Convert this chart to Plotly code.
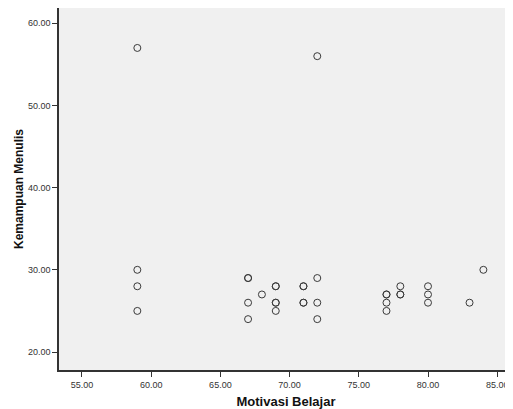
import plotly.graph_objects as go

motivasi = [59, 59, 59, 59, 67, 67, 67, 67, 68, 69, 69, 69, 69, 69, 71, 71, 71, 71,
            72, 72, 72, 72, 77, 77, 77, 77, 78, 78, 78, 80, 80, 80, 83, 84]
menulis = [57, 30, 28, 25, 29, 29, 26, 24, 27, 28, 28, 26, 26, 25, 28, 28, 26, 26,
           56, 29, 26, 24, 27, 27, 26, 25, 28, 27, 27, 28, 27, 26, 26, 30]

x_ticks = [55, 60, 65, 70, 75, 80, 85]
y_ticks = [20, 30, 40, 50, 60]

fig = go.Figure()
fig.add_trace(go.Scatter(
    x=motivasi, y=menulis, mode="markers",
    marker=dict(symbol="circle-open", size=7, color="#3a3a3a", line=dict(width=1)),
    hoverinfo="x+y", showlegend=False,
))

fig.update_layout(
    width=505, height=401,
    margin=dict(l=51, r=0, t=0, b=39),
    paper_bgcolor="white", plot_bgcolor="#f0f0f0",
    font=dict(family="Liberation Sans, Arial, sans-serif", size=9, color="#333333"),
)
fig.update_xaxes(
    range=[53.34, 86.14], tickvals=x_ticks, tickformat=".2f",
    showgrid=False, zeroline=False, automargin=False,
    showline=True, linecolor="#333333", linewidth=1.5,
    ticks="outside", ticklen=5, tickcolor="#333333",
    title=dict(text="<b>Motivasi Belajar</b>", font=dict(size=13, color="#111111"), standoff=8),
)
fig.update_yaxes(
    range=[17.81, 61.86], tickvals=y_ticks, tickformat=".2f",
    showgrid=False, zeroline=False, automargin=False,
    showline=True, linecolor="#333333", linewidth=1.5,
    ticks="outside", ticklen=5, tickcolor="#333333",
    title=dict(text="<b>Kemampuan Menulis</b>", font=dict(size=12, color="#111111"), standoff=2),
)

fig.write_html("out.html")
